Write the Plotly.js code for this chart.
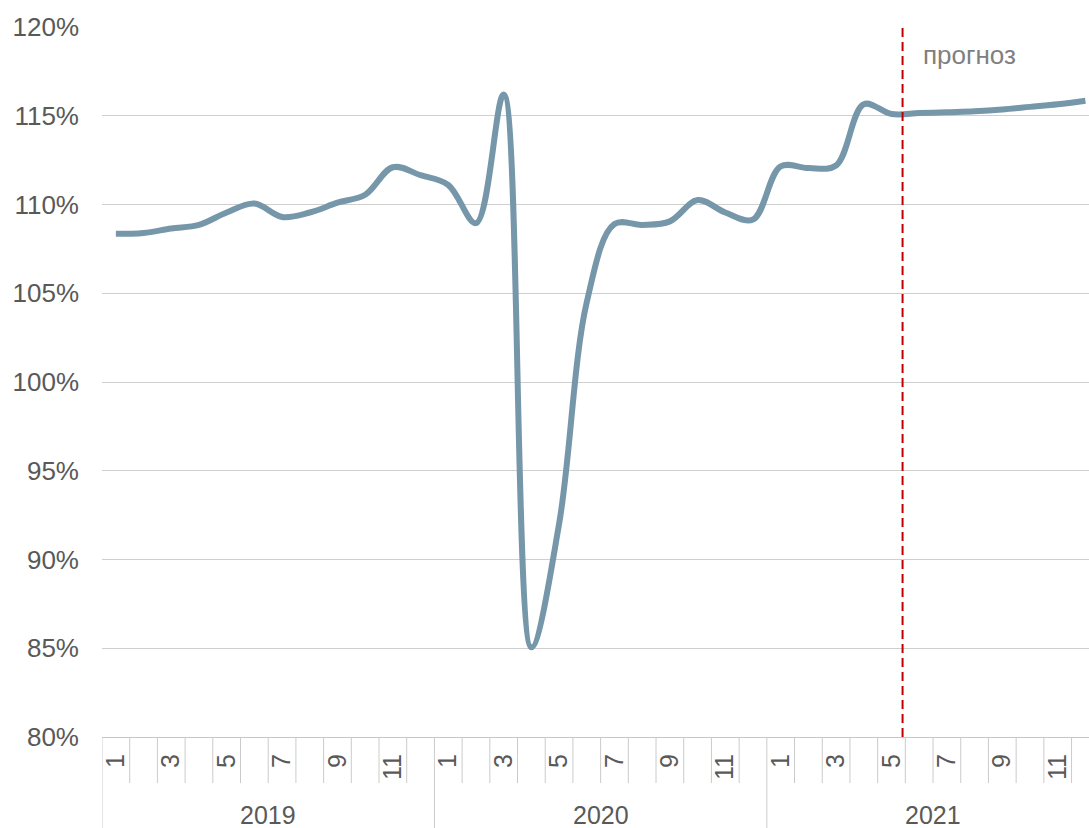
<!DOCTYPE html>
<html>
<head>
<meta charset="utf-8">
<script src="https://cdn.plot.ly/plotly-3.0.1.min.js"></script>
<style>html,body{margin:0;padding:0;background:#fff;}#chart{width:1089px;height:828px;}</style>
</head>
<body>
<div id="chart"></div>
<script>
// ---- data ----
const years = ['2019', '2020', '2021'];
const months = ['1','2','3','4','5','6','7','8','9','10','11','12'];
const values2019 = [108.35, 108.4, 108.65, 108.85, 109.55, 110.05, 109.3, 109.55, 110.1, 110.55, 112.1, 111.65];
const values2020 = [111.1, 108.95, 116.2, 85.05, 92.0, 104.5, 108.9, 108.85, 109.05, 110.25, 109.55, 109.15];
const values2021 = [112.15, 112.05, 112.2, 115.65, 115.1, 115.15, 115.2, 115.25, 115.35, 115.5, 115.65, 115.85];
const yTicks = [80, 85, 90, 95, 100, 105, 110, 115, 120];
const forecastLabel = 'прогноз';
const forecastMonthIndex = 28.4; // between May and June 2021

// ---- build ----
const allValues = values2019.concat(values2020, values2021);
const xIdx = allValues.map((_, i) => i);
const nCat = allValues.length;

const monthTickVals = [];
const monthTickText = [];
for (let i = 0; i < nCat; i++) {
  const m = months[i % 12];
  if ((i % 12) % 2 === 0) { monthTickVals.push(i); monthTickText.push(m); }
}

const sepColor = '#cbcbcb';
const shapes = [];
for (let b = 0; b <= nCat; b++) {
  const isYear = (b % 12 === 0);
  shapes.push({
    type: 'line', xref: 'x', yref: 'paper', ysizemode: 'pixel', yanchor: 0,
    x0: b - 0.5, x1: b - 0.5, y0: 0, y1: isYear ? -95 : -46,
    line: {color: sepColor, width: 1}, layer: 'above'
  });
}
shapes.push({
  type: 'line', xref: 'x', yref: 'paper',
  x0: forecastMonthIndex, x1: forecastMonthIndex, y0: 0, y1: 1,
  line: {color: '#c00000', width: 2, dash: '9px,5px'}, layer: 'above'
});

const annotations = years.map((y, k) => ({
  xref: 'x', yref: 'paper', x: 12 * k + 5.5, y: 0, yshift: -78,
  yanchor: 'middle', xanchor: 'center', showarrow: false, text: y,
  font: {family: 'Liberation Sans, Arial, sans-serif', size: 25, color: '#595959'}
}));
annotations.push({
  xref: 'x', yref: 'paper', x: forecastMonthIndex, y: 1, xanchor: 'left', yanchor: 'middle',
  xshift: 18, yshift: -28, showarrow: false, text: forecastLabel,
  font: {family: 'Liberation Sans, Arial, sans-serif', size: 26, color: '#808080'}
});

const trace = {
  type: 'scatter', mode: 'lines', x: xIdx, y: allValues,
  line: {color: '#7597a9', width: 6, shape: 'spline', smoothing: 1.0},
  hoverinfo: 'skip', cliponaxis: false
};

const layout = {
  width: 1089, height: 828,
  margin: {l: 102, r: 0, t: 27, b: 91, pad: 0},
  paper_bgcolor: '#fff', plot_bgcolor: '#fff',
  showlegend: false,
  font: {family: 'Liberation Sans, Arial, sans-serif', color: '#595959'},
  xaxis: {
    range: [-0.5, 35.13], showgrid: false, zeroline: false,
    showline: true, linecolor: '#c6c6c6', linewidth: 1,
    tickmode: 'array', tickvals: monthTickVals, ticktext: monthTickText,
    tickangle: -90, ticks: '', ticklabelstandoff: 6,
    tickfont: {size: 25, color: '#595959'}, fixedrange: true
  },
  yaxis: {
    range: [80, 120], tickmode: 'array', tickvals: yTicks,
    ticktext: yTicks.map(v => v + '%'),
    showgrid: true, gridcolor: '#cfcfcf', gridwidth: 1, zeroline: false,
    showline: false, ticks: '', ticklabelstandoff: 22,
    tickfont: {size: 26, color: '#595959'}, fixedrange: true
  },
  shapes: shapes,
  annotations: annotations
};

Plotly.newPlot('chart', [trace], layout, {displayModeBar: false, staticPlot: true});
</script>
</body>
</html>
